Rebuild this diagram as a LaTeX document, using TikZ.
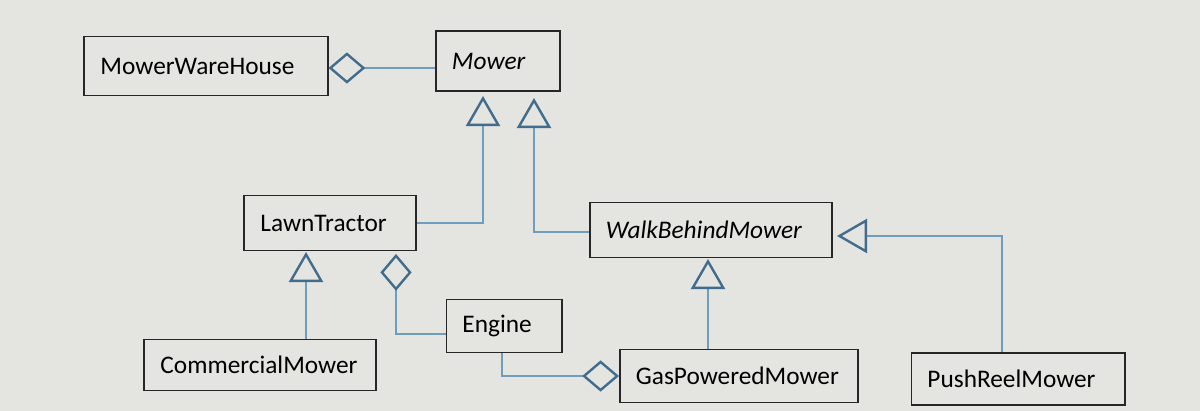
\documentclass[tikz,border=0pt]{standalone}
\usepackage{fontspec}
\setmainfont{Carlito}
\usetikzlibrary{arrows.meta,calc}

\definecolor{linkblue}{RGB}{112,156,190}
\definecolor{tipblue}{RGB}{66,108,140}
\definecolor{screen}{RGB}{228,228,225}

\tikzset{
        cls/.style={draw=black!85, line width=1.4pt, inner xsep=0.4cm, align=left,
                font=\fontsize{18}{21}\selectfont},
        conn/.style={linkblue, line width=1.1pt},
        gen/.style={-{Triangle[open, length=0.75cm, width=0.85cm, line width=1.7pt, color=tipblue]}},
        agg/.style={{Diamond[open, length=0.92cm, width=0.78cm, line width=1.7pt, color=tipblue]}-},
}

\begin{document}
\begin{tikzpicture}[x=0.025cm, y=-0.025cm]
        \fill[screen] (0,0) rectangle (1200,411);
        \useasboundingbox (0,0) rectangle (1200,411);

        % classes
        \node[cls, text width=5.275cm, minimum height=1.475cm] (mwh) at (206,66) {MowerWareHouse};
        \node[cls, text width=2.3cm, minimum height=1.5cm, font=\fontsize{18}{21}\selectfont\itshape] (mower) at (498,61) {Mower};
        \node[cls, text width=3.475cm, minimum height=1.375cm] (lawn) at (330,223) {LawnTractor};
        \node[cls, text width=5.25cm, minimum height=1.375cm, font=\fontsize{18}{21}\selectfont\itshape] (wbm) at (711,230) {WalkBehindMower};
        \node[cls, text width=2.075cm, minimum height=1.325cm] (engine) at (504,326) {Engine};
        \node[cls, text width=4.975cm, minimum height=1.275cm] (comm) at (260,365) {CommercialMower};
        \node[cls, text width=5.15cm, minimum height=1.325cm] (gpm) at (739,376) {GasPoweredMower};
        \node[cls, text width=4.525cm, minimum height=1.3cm] (push) at (1018,379) {PushReelMower};

        % ends of the symbols
        \coordinate (mtip1) at (483,96);
        \coordinate (mtip2) at (534,98);
        \coordinate (ltip) at (306,252);
        \coordinate (wtip) at (708,259);
        \coordinate (wtip2) at (837,236);
        \coordinate (pcorner) at (1002,236);
        \coordinate (lagg) at (396,254);

        % inheritance
        \draw[conn, gen] (lawn.east) -| (mtip1);
        \draw[conn, gen] (wbm.west |- 0,232) -| (mtip2);
        \draw[conn, gen] (ltip |- comm.north) -- (ltip);
        \draw[conn, gen] (wtip |- gpm.north) -- (wtip);
        \draw[conn, gen] (pcorner |- push.north) |- (wtip2);

        % aggregation
        \draw[conn, agg] ($(mwh.east)+(0,2)$) -- ($(mwh.east -| mower.west)+(0,2)$);
        \draw[conn, agg] (lagg) |- ($(engine.west)+(0,8)$);
        \draw[conn, agg] (gpm.west) -| ($(engine.south)+(-2,0)$);
\end{tikzpicture}
\end{document}
